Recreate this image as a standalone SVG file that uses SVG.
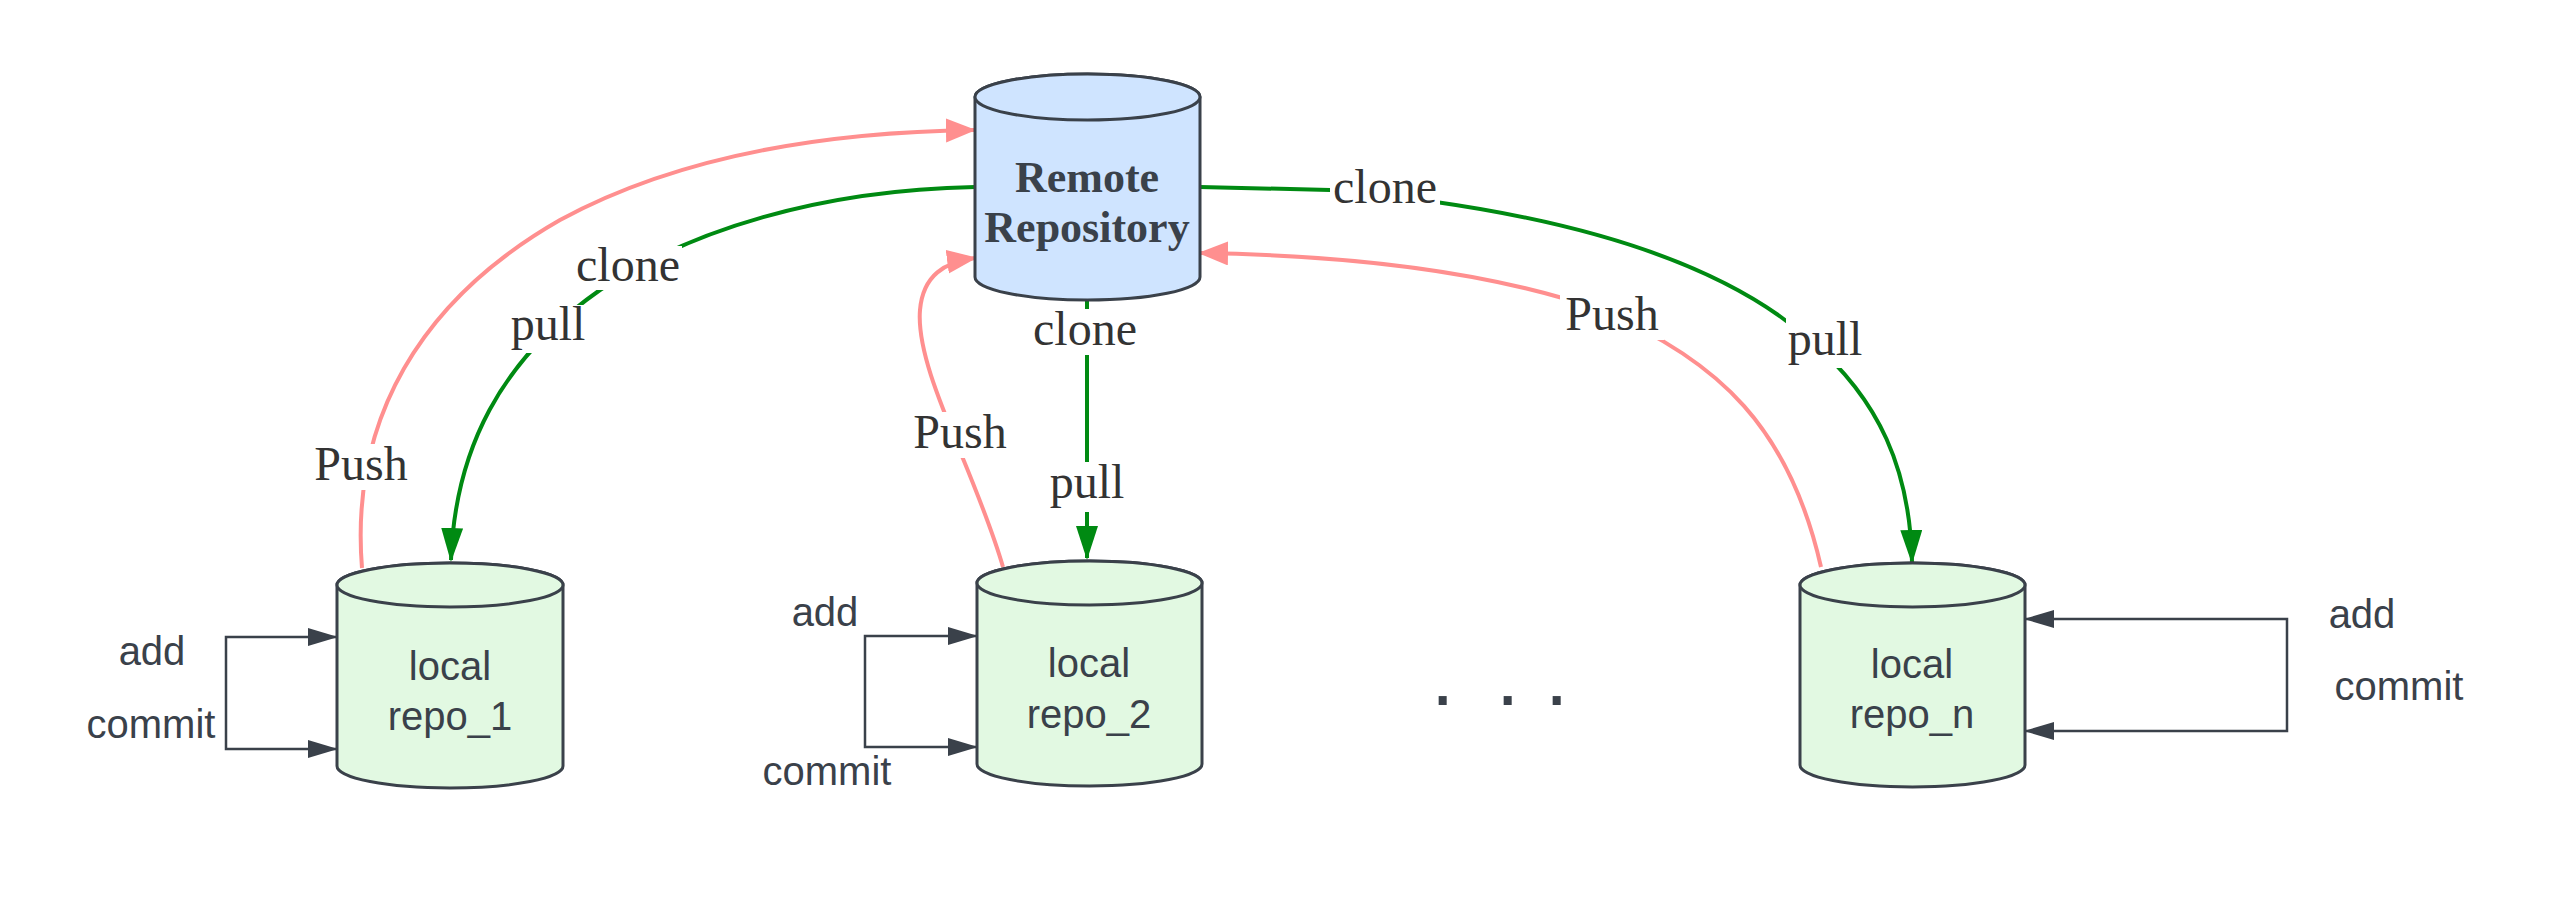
<svg xmlns="http://www.w3.org/2000/svg" width="2550" height="909" viewBox="0 0 2550 909">
<style>
.cyl{stroke:#3a414a;stroke-width:3}
.remote{fill:#cfe4ff}
.local{fill:#e2f9e2}
.ntext{font-family:"Liberation Sans",Arial,sans-serif;font-size:40px;fill:#3a414a;text-anchor:middle}
.rtext{font-family:"Liberation Serif","Times New Roman",serif;font-size:44px;font-weight:bold;fill:#3a414a;text-anchor:middle}
.lbl{font-family:"Liberation Serif","Times New Roman",serif;font-size:48px;fill:#333333;text-anchor:middle}
.slbl{font-family:"Liberation Sans",Arial,sans-serif;font-size:40px;fill:#3a414a;text-anchor:middle}
.push{fill:none;stroke:#ff8f8f;stroke-width:4;marker-end:url(#ap)}
.pull{fill:none;stroke:#008a12;stroke-width:4;marker-end:url(#ag)}
.loop{fill:none;stroke:#3a414a;stroke-width:2.5;marker-start:url(#ad);marker-end:url(#ad)}
.bg{fill:#ffffff}
</style>
<defs>
<marker id="ap" markerUnits="userSpaceOnUse" markerWidth="32" markerHeight="26" refX="28" refY="12" orient="auto"><path d="M0,0 L30,12 L0,24 z" fill="#ff8f8f"/></marker>
<marker id="ag" markerUnits="userSpaceOnUse" markerWidth="36" markerHeight="24" refX="32" refY="11" orient="auto"><path d="M0,0 L34,11 L0,22 z" fill="#008a12"/></marker>
<marker id="ad" markerUnits="userSpaceOnUse" markerWidth="32" markerHeight="20" refX="29" refY="9" orient="auto-start-reverse"><path d="M0,0 L30,9 L0,18 z" fill="#3a414a"/></marker>
</defs>
<rect width="2550" height="909" fill="#ffffff"/>

<g id="connectors">
<path class="push" d="M362,568 C350,420 420,300 560,220 C680,155 830,132 974,130"/>
<path class="pull" d="M975,187 C820,190 690,230 600,290 C500,360 455,450 451,560"/>
<path class="push" d="M1003,567 C975,470 915,370 920,310 C923,275 945,262 975,258"/>
<path class="pull" d="M1087,300 L1087,558"/>
<path class="pull" d="M1200,187 L1330,190 C1560,210 1720,260 1810,340 C1880,400 1910,470 1912,562"/>
<path class="push" d="M1821,567 C1790,430 1720,360 1600,310 C1480,268 1330,255 1200,253"/>
<path class="loop" d="M337,637 H226 V749 H337"/>
<path class="loop" d="M977,636 H865 V747 H977"/>
<path class="loop" d="M2025,619 H2287 V731 H2025"/>
</g>

<g id="labels">
<rect class="bg" x="307" y="444" width="108" height="46"/>
<text class="lbl" x="361" y="480">Push</text>
<rect class="bg" x="574" y="246" width="108" height="44"/>
<text class="lbl" x="628" y="281">clone</text>
<rect class="bg" x="510" y="305" width="78" height="48"/>
<text class="lbl" x="548" y="340">pull</text>
<rect class="bg" x="908" y="412" width="104" height="46"/>
<text class="lbl" x="960" y="448">Push</text>
<rect class="bg" x="1032" y="309" width="106" height="46"/>
<text class="lbl" x="1085" y="345">clone</text>
<rect class="bg" x="1048" y="462" width="78" height="50"/>
<text class="lbl" x="1087" y="498">pull</text>
<rect class="bg" x="1330" y="166" width="110" height="44"/>
<text class="lbl" x="1385" y="203">clone</text>
<rect class="bg" x="1786" y="318" width="78" height="50"/>
<text class="lbl" x="1825" y="355">pull</text>
<rect class="bg" x="1560" y="294" width="104" height="46"/>
<text class="lbl" x="1612" y="330">Push</text>
<text class="slbl" x="152" y="665">add</text>
<text class="slbl" x="151" y="738">commit</text>
<text class="slbl" x="825" y="626">add</text>
<text class="slbl" x="827" y="785">commit</text>
<text class="slbl" x="2362" y="628">add</text>
<text class="slbl" x="2399" y="700">commit</text>
<text font-family="Liberation Sans, Arial, sans-serif" font-size="84" fill="#3a414a" x="1431 1496 1545" y="705">...</text>
</g>

<g id="remote">
<path class="cyl remote" d="M975,97 L975,277 A112.5,23 0 0 0 1200,277 L1200,97 A112.5,23 0 0 0 975,97 Z"/>
<ellipse class="cyl remote" cx="1087.5" cy="97" rx="112.5" ry="23"/>
<text class="rtext" x="1087" y="192">Remote</text>
<text class="rtext" x="1087" y="242">Repository</text>
</g>

<g id="repo_1">
<path class="cyl local" d="M337,585 L337,766 A113,22 0 0 0 563,766 L563,585 A113,22 0 0 0 337,585 Z"/>
<ellipse class="cyl local" cx="450" cy="585" rx="113" ry="22"/>
<text class="ntext" x="450" y="680">local</text>
<text class="ntext" x="450" y="730">repo_1</text>
</g>

<g id="repo_2">
<path class="cyl local" d="M977,583 L977,764 A112.5,22 0 0 0 1202,764 L1202,583 A112.5,22 0 0 0 977,583 Z"/>
<ellipse class="cyl local" cx="1089.5" cy="583" rx="112.5" ry="22"/>
<text class="ntext" x="1089" y="677">local</text>
<text class="ntext" x="1089" y="728">repo_2</text>
</g>

<g id="repo_n">
<path class="cyl local" d="M1800,585 L1800,765 A112.5,22 0 0 0 2025,765 L2025,585 A112.5,22 0 0 0 1800,585 Z"/>
<ellipse class="cyl local" cx="1912.5" cy="585" rx="112.5" ry="22"/>
<text class="ntext" x="1912" y="678">local</text>
<text class="ntext" x="1912" y="728">repo_n</text>
</g>
</svg>
